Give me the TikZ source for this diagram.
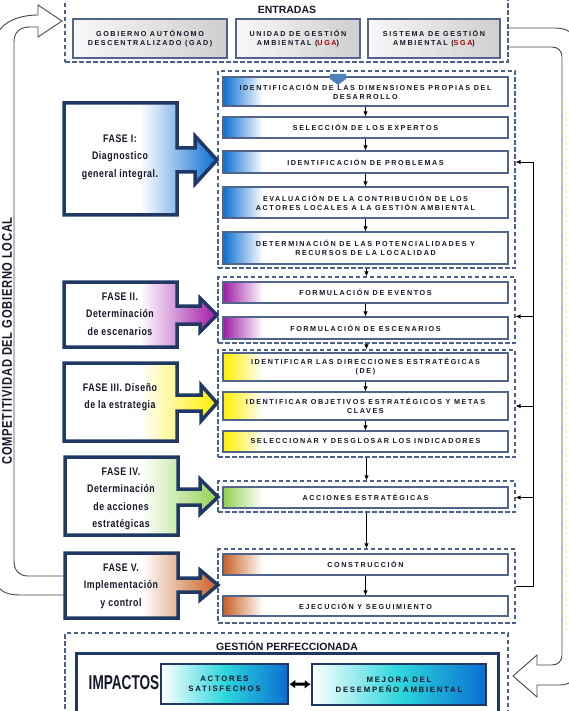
\documentclass[tikz,border=0pt]{standalone}
\usepackage{fontspec}
\setmainfont{Liberation Sans}
\newfontfamily\boxfont[LetterSpace=22]{Liberation Sans}
\newfontfamily\phasefont[FakeStretch=0.8,LetterSpace=5]{Liberation Sans}
\newfontfamily\impfont[FakeStretch=0.68]{Liberation Sans}
\usetikzlibrary{arrows.meta,positioning}

\definecolor{navy}{RGB}{31,56,100}
\definecolor{boxline}{RGB}{80,100,140}
\definecolor{dashline}{RGB}{75,98,140}
\definecolor{faseblue}{RGB}{10,110,210}
\definecolor{fasepurple}{RGB}{160,25,165}
\definecolor{faseyellow}{RGB}{255,238,0}
\definecolor{fasegreen}{RGB}{146,208,80}
\definecolor{faseorange}{RGB}{200,95,35}
\definecolor{impcyan}{RGB}{45,215,220}
\definecolor{entryblue}{RGB}{79,129,189}
\definecolor{arrowgray}{RGB}{70,70,70}
\definecolor{ink}{RGB}{20,24,40}

\pgfdeclarehorizontalshading{stripblue}{100bp}{color(0bp)=(faseblue); color(25bp)=(faseblue); color(32bp)=(white); color(100bp)=(white)}
\pgfdeclarehorizontalshading{strippurple}{100bp}{color(0bp)=(fasepurple); color(25bp)=(fasepurple); color(32bp)=(white); color(100bp)=(white)}
\pgfdeclarehorizontalshading{stripyellow}{100bp}{color(0bp)=(faseyellow); color(25bp)=(faseyellow); color(32bp)=(white); color(100bp)=(white)}
\pgfdeclarehorizontalshading{stripgreen}{100bp}{color(0bp)=(fasegreen); color(25bp)=(fasegreen); color(32bp)=(white); color(100bp)=(white)}
\pgfdeclarehorizontalshading{striporange}{100bp}{color(0bp)=(faseorange); color(25bp)=(faseorange); color(32bp)=(white); color(100bp)=(white)}

\tikzset{
  grp/.style={draw=dashline, dash pattern=on 4.5pt off 2.5pt, line width=1.2pt, minimum width=297},
  procbox/.style={draw=boxline, line width=1.1pt, shade, shading=strip#1, minimum width=285, inner sep=2pt,
    align=center, text=ink, font=\boxfont\bfseries\fontsize{7.2}{9}\selectfont},
  inbox/.style={draw=boxline, line width=1.1pt, left color=gray!6, right color=gray!38,
    minimum height=39, align=center, text=ink, font=\boxfont\bfseries\fontsize{7.2}{9.5}\selectfont},
  impbox/.style={draw=navy, line width=2.5pt, left color=white, right color=faseblue, middle color=impcyan,
    align=center, text=ink, font=\boxfont\bfseries\fontsize{7.8}{10}\selectfont},
  fase/.style={draw=navy, line width=3.5pt, line join=miter, left color=white, right color=#1, middle color=white},
  fasetext/.style={align=center, text=ink, font=\phasefont\bfseries\fontsize{11}{17.5}\selectfont},
  header/.style={text=ink, font=\bfseries\fontsize{10.5}{12}\selectfont},
  arr/.style={-{Latex[length=5pt,width=4.5pt]}, line width=0.8pt},
  bigarrow/.style={draw=arrowgray, line width=0.9pt},
}

\begin{document}
\begin{tikzpicture}[x=1pt,y=-1pt]
\useasboundingbox (0,0) rectangle (569,711);

\node[grp, minimum width=443, minimum height=66] (gIn) at (286.5,29) {};
\node[header] (entr) at (287,10) {ENTRADAS};
\node[inbox, minimum width=154] (gad) at (150,38.5) {GOBIERNO AUTÓNOMO\\DESCENTRALIZADO (GAD)};
\node[inbox, minimum width=124] (uga) at (298,38.5) {UNIDAD DE GESTIÓN\\AMBIENTAL (\textcolor{red!70!black}{UGA})};
\node[inbox, minimum width=132] (sga) at (434,38.5) {SISTEMA DE GESTIÓN\\AMBIENTAL (\textcolor{red!70!black}{SGA})};

\node[grp, minimum height=197] (gI) at (366.5,169.5) {};
\node[grp, minimum height=66] (gII) at (366.5,310) {};
\node[grp, minimum height=107] (gIII) at (366.5,403.5) {};
\node[grp, minimum height=31] (gIV) at (366.5,496.5) {};
\node[grp, minimum height=74] (gV) at (366.5,586) {};

\node[procbox=blue, minimum height=29] (b11) at (365.5,91.5) {IDENTIFICACIÓN DE LAS DIMENSIONES PROPIAS DEL\\DESARROLLO};
\node[procbox=blue, minimum height=21] (b12) at (365.5,127.5) {SELECCIÓN DE LOS EXPERTOS};
\node[procbox=blue, minimum height=22] (b13) at (365.5,162) {IDENTIFICACIÓN DE PROBLEMAS};
\node[procbox=blue, minimum height=31] (b14) at (365.5,202.5) {EVALUACIÓN DE LA CONTRIBUCIÓN DE LOS\\ACTORES LOCALES A LA GESTIÓN AMBIENTAL};
\node[procbox=blue, minimum height=32] (b15) at (365.5,248) {DETERMINACIÓN DE LAS POTENCIALIDADES Y\\RECURSOS DE LA LOCALIDAD};
\node[procbox=purple, minimum height=21] (p21) at (365.5,292.5) {FORMULACIÓN DE EVENTOS};
\node[procbox=purple, minimum height=22] (p22) at (365.5,328) {FORMULACIÓN DE ESCENARIOS};
\node[procbox=yellow, minimum height=28] (p31) at (365.5,367) {IDENTIFICAR LAS DIRECCIONES ESTRATÉGICAS\\(DE)};
\node[procbox=yellow, minimum height=28] (p32) at (365.5,406) {IDENTIFICAR OBJETIVOS ESTRATÉGICOS Y METAS\\CLAVES};
\node[procbox=yellow, minimum height=21] (p33) at (365.5,441.5) {SELECCIONAR Y DESGLOSAR LOS INDICADORES};
\node[procbox=green, minimum height=21] (p41) at (365.5,497.5) {ACCIONES ESTRATÉGICAS};
\node[procbox=orange, minimum height=21] (p51) at (365.5,564.5) {CONSTRUCCIÓN};
\node[procbox=orange, minimum height=20] (p52) at (365.5,606) {EJECUCIÓN Y SEGUIMIENTO};

\fill[entryblue] (330,74) -- (346,74) -- (346,79) -- (338,85) -- (330,79) -- cycle;

\draw[arr] (b11) -- (b12);
\draw[arr] (b12) -- (b13);
\draw[arr] (b13) -- (b14);
\draw[arr] (b14) -- (b15);
\draw[arr] (gI) -- (gII);
\draw[arr] (p21) -- (p22);
\draw[arr] (gII) -- (gIII);
\draw[arr] (p31) -- (p32);
\draw[arr] (p32) -- (p33);
\draw[arr] (gIII) -- (gIV);
\draw[arr] (gIV) -- (gV);
\draw[arr] (p51) -- (p52);

\coordinate (fb) at (533,162);
\draw[line width=0.8pt] (gV.east) -| (fb);
\draw[arr] (fb) -- (fb -| gI.east);
\draw[arr] (fb |- p22.north) -- (gII.east |- p22.north);
\draw[arr] (fb |- p32) -- (gIII.east |- p32);
\draw[arr] (fb |- p41) -- (gIV.east |- p41);

\draw[fase=faseblue] (64,103) -- (177,103) -- (177,148) -- (195,148) -- (195,136) -- (217,160) -- (195,184) -- (195,172) -- (177,172) -- (177,215) -- (64,215) -- cycle;
\draw[fase=fasepurple] (64,282) -- (177,282) -- (177,306) -- (200,306) -- (200,298) -- (217,315) -- (200,332) -- (200,324) -- (177,324) -- (177,347) -- (64,347) -- cycle;
\draw[fase=faseyellow] (64,363) -- (177,363) -- (177,395) -- (201,395) -- (201,385) -- (217,403) -- (201,421) -- (201,411) -- (177,411) -- (177,441) -- (64,441) -- cycle;
\draw[fase=fasegreen] (65,457) -- (178,457) -- (178,489) -- (200,489) -- (200,479) -- (218,497) -- (200,514) -- (200,505) -- (178,505) -- (178,535) -- (65,535) -- cycle;
\draw[fase=faseorange] (65,553) -- (178,553) -- (178,578) -- (200,578) -- (200,570) -- (218,585) -- (200,600) -- (200,592) -- (178,592) -- (178,618) -- (65,618) -- cycle;

\node[fasetext] (f1) at (120,157) {FASE I:\\Diagnostico\\general integral.};
\node[fasetext] (f2) at (120,314) {FASE II.\\Determinación\\de escenarios};
\node[fasetext] (f3) at (120,397) {FASE III. Diseño\\de la estrategia};
\node[fasetext] (f4) at (121,499) {FASE IV.\\Determinación\\de acciones\\estratégicas};
\node[fasetext] (f5) at (121,586) {FASE V.\\Implementación\\y control};

\node[rotate=90, text=ink, font=\phasefont\bfseries\fontsize{14}{14}\selectfont] (comp) at (7,341) {COMPETITIVIDAD DEL GOBIERNO LOCAL};

\draw[bigarrow] (65,576) -- (28,576) .. controls (19,576) and (14,570) .. (14,561) -- (14,42)
  .. controls (14,32) and (20,27) .. (30,27) -- (38,27) -- (38,37) -- (62,21) -- (38,5) -- (38,15)
  .. controls (15,15) and (-5,25) .. (-5,45) -- (-5,575) .. controls (-5,590) and (5,595) .. (20,595) -- (65,595);
\draw[bigarrow] (508,28) -- (555,28) .. controls (570,28) and (578,36) .. (578,51) -- (578,662)
  .. controls (578,677) and (572,685) .. (560,685) -- (537,685) -- (537,697) -- (513,676) -- (537,655)
  -- (537,665) -- (552,665) .. controls (558,665) and (562,661) .. (562,655) -- (562,57)
  .. controls (562,51) and (558,47) .. (552,47) -- (508,47);
\draw[yellow!45, dashed, line width=0.8pt] (566,100) -- (566,632);

\node[grp, minimum width=443, minimum height=100] (gOut) at (286.5,683) {};
\node[header] (gest) at (287,646) {GESTIÓN PERFECCIONADA};
\node[draw=navy, line width=3pt, minimum width=422, minimum height=59] (imp) at (287,682.5) {};
\node[text=ink, font=\impfont\bfseries\fontsize{20}{20}\selectfont] (impt) at (124,683) {IMPACTOS};
\node[impbox, minimum width=127, minimum height=40] (act) at (224.5,684) {ACTORES\\SATISFECHOS};
\node[impbox, minimum width=174, minimum height=41] (mej) at (399,684.5) {MEJORA DEL\\DESEMPEÑO AMBIENTAL};
\draw[{Latex[length=6pt,width=9pt]}-{Latex[length=6pt,width=9pt]}, line width=3pt] (act) -- (mej);
\end{tikzpicture}
\end{document}
